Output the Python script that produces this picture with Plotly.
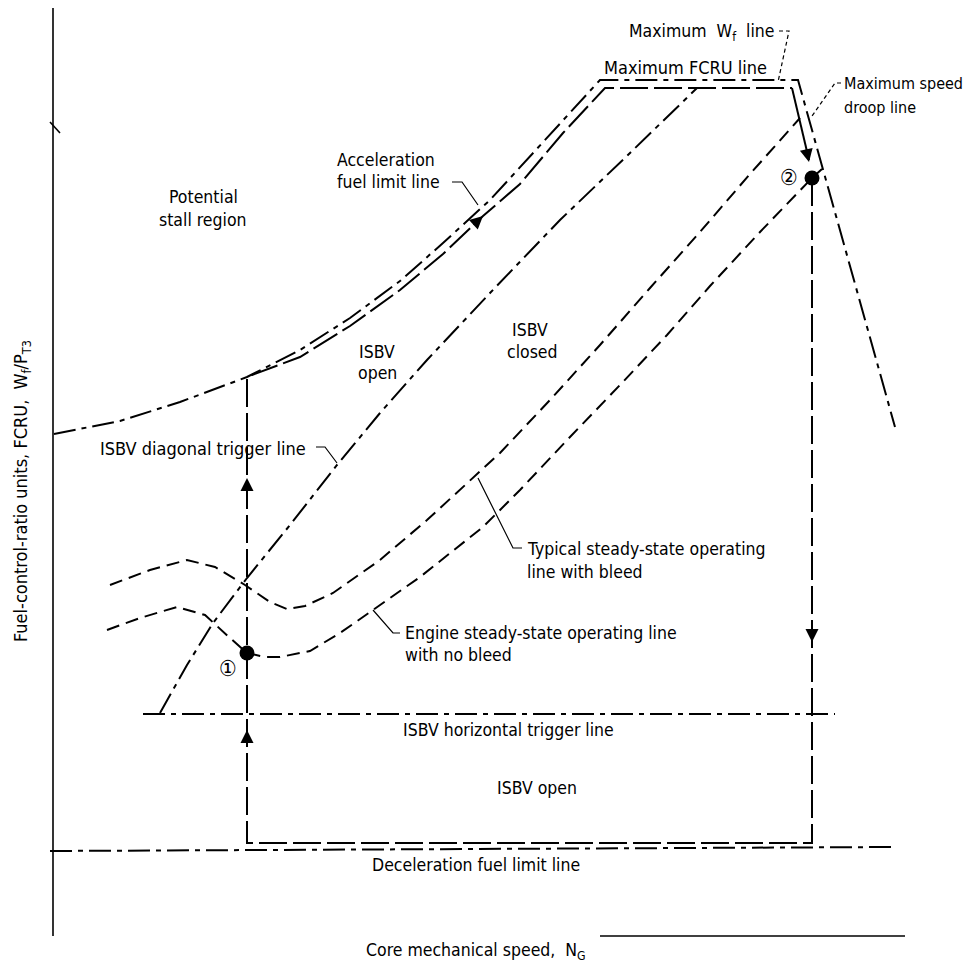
import plotly.graph_objects as go

# ---- data (schematic coordinates: x = core speed units, y = FCRU units, y grows downward) ----
max_wf_x = [54, 120, 180, 247, 300, 350, 400, 443, 490, 513, 560, 600, 798, 895]
max_wf_y = [434, 421, 402, 377, 350, 318, 281, 243, 200, 175, 123, 80, 80, 427]

transient_x = [812, 812, 247, 247, 252, 300, 350, 400, 443, 483, 520, 563, 605, 792]
transient_y = [178, 843, 843, 378, 375, 357, 326, 290, 254, 216, 184, 133, 88, 88]

fcru_drop_x = [792, 809]
fcru_drop_y = [88, 160]

bleed_x = [110, 150, 187, 215, 245, 270, 287, 305, 333, 380, 427, 478, 500, 550, 600, 650, 700, 750, 800]
bleed_y = [585, 570, 560, 567, 585, 602, 609, 606, 593, 560, 520, 473, 453, 400, 345, 288, 232, 174, 118]

nobleed_x = [107, 140, 177, 205, 230, 247, 265, 280, 310, 340, 373, 420, 483, 520, 570, 620, 667, 710, 760, 812, 822]
nobleed_y = [630, 618, 607, 615, 638, 653, 657, 657, 651, 633, 610, 577, 527, 490, 437, 385, 335, 286, 232, 178, 169]

diag_x = [160, 187, 213, 247, 290, 337, 380, 427, 490, 560, 630, 697]
diag_y = [713, 665, 623, 578, 525, 465, 413, 360, 293, 220, 153, 88]

horiz_trig_x = [143, 835]
horiz_trig_y = [714, 714]

decel_x = [50, 895]
decel_y = [851, 847]

points_x = [247, 812]
points_y = [653, 178]
point_labels = ["①", "②"]

FONT = "DejaVu Sans Condensed, DejaVu Sans, Liberation Sans Narrow, sans-serif"
FS = 17.5
DASHDOT = "22px,6px,5px,6px"
LONGDASH = "28px,6px"
DASH = "13px,7px"

fig = go.Figure()

def line(x, y, dash="solid", width=2.0):
    fig.add_trace(go.Scatter(x=x, y=y, mode="lines", hoverinfo="skip", showlegend=False,
                             line=dict(color="black", width=width, dash=dash)))

# axes drawn as frame pieces
line([53, 53], [0, 936], width=1.6)
line([600, 905], [936, 936], width=1.6)
line([50, 60], [122, 133], width=1.6)

line(max_wf_x, max_wf_y, DASHDOT)
line(transient_x, transient_y, LONGDASH)
line(fcru_drop_x, fcru_drop_y, "solid")
line(bleed_x, bleed_y, DASH)
line(nobleed_x, nobleed_y, DASH)
line(diag_x, diag_y, DASHDOT)
line(horiz_trig_x, horiz_trig_y, DASHDOT)
line(decel_x, decel_y, DASHDOT)

# leaders
line([779, 789, 778], [31, 31, 82], "4px,3px", 1.2)
line([841, 835, 812], [83, 83, 116], "4px,3px", 1.2)
line([452, 462, 478], [182, 182, 205], "solid", 1.2)
line([316, 325, 337], [447, 447, 463], "solid", 1.2)
line([478, 513, 522], [478, 548, 548], "solid", 1.2)
line([373, 393, 400], [610, 633, 633], "solid", 1.2)

fig.add_trace(go.Scatter(x=points_x, y=points_y, mode="markers", hoverinfo="skip", showlegend=False,
                         marker=dict(color="black", size=15)))

# arrowheads along paths
arrows = [((483, 216), (472, 226)),
          ((247, 478), (247, 495)),
          ((247, 730), (247, 747)),
          ((812, 642), (812, 625)),
          ((809, 162), (806, 148))]
for (hx, hy), (tx, ty) in arrows:
    fig.add_annotation(x=hx, y=hy, ax=tx, ay=ty, xref="x", yref="y", axref="x", ayref="y",
                       text="", showarrow=True, arrowhead=2, arrowsize=1.3, arrowwidth=2, arrowcolor="black")

def txt(x, y, s, anchor="center", size=FS):
    fig.add_annotation(x=x, y=y, xref="x", yref="y", text=s, showarrow=False, xanchor=anchor,
                       yanchor="middle", font=dict(family=FONT, size=size, color="black"), align="left")

txt(627, 32, "Maximum  W<sub>f</sub>  line", "left")
txt(602, 67, "Maximum FCRU line", "left", 18)
txt(842, 83, "Maximum speed", "left", 16)
txt(842, 107, "droop line", "left", 16)
txt(335, 160, "Acceleration", "left")
txt(335, 182, "fuel limit line", "left")
txt(203, 197, "Potential")
txt(203, 220, "stall region")
txt(377, 352, "ISBV")
txt(377, 373, "open")
txt(530, 330, "ISBV")
txt(532, 352, "closed")
txt(98, 448, "ISBV diagonal trigger line", "left", 18)
txt(525, 549, "Typical steady-state operating", "left")
txt(525, 572, "line with bleed", "left")
txt(403, 633, "Engine steady-state operating line", "left")
txt(403, 655, "with no bleed", "left")
txt(228, 668, point_labels[0], size=22)
txt(789, 177, point_labels[1], size=22)
txt(508, 730, "ISBV horizontal trigger line")
txt(537, 788, "ISBV open")
txt(476, 865, "Deceleration fuel limit line")
txt(476, 951, "Core mechanical speed,  N<sub>G</sub>")

fig.add_annotation(x=22, y=491, xref="x", yref="y", text="Fuel-control-ratio units, FCRU,  W<sub>f</sub>/P<sub>T3</sub>",
                   showarrow=False, textangle=-90, font=dict(family=FONT, size=18, color="black"))

# page body has an 8px margin: the figure spans window pixels 8..965 / 8..964
fig.update_layout(width=957, height=956, margin=dict(l=0, r=0, t=0, b=0),
                  paper_bgcolor="white", plot_bgcolor="white",
                  xaxis=dict(range=[8, 965], visible=False, fixedrange=True),
                  yaxis=dict(range=[964, 8], visible=False, fixedrange=True))

fig.write_html("out.html")
